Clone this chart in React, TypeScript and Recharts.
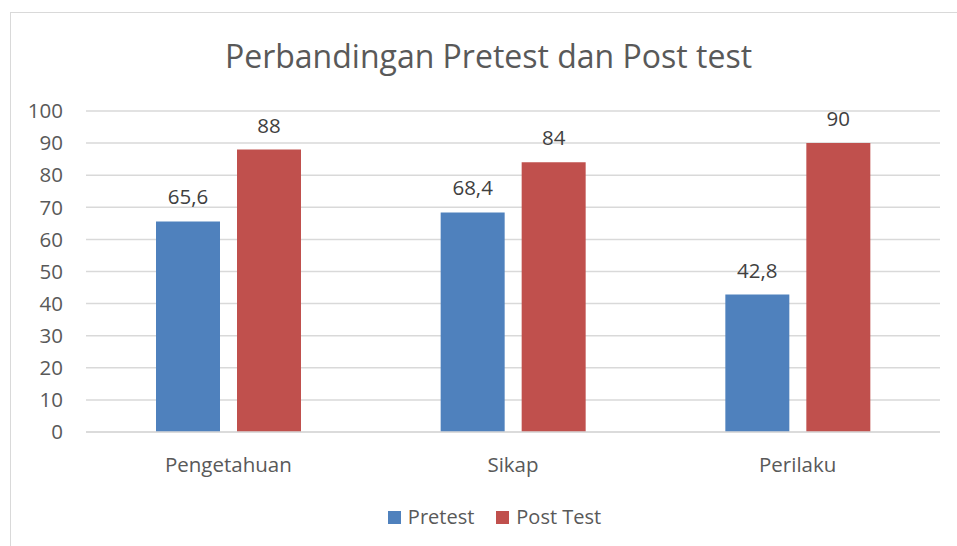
import { BarChart, Bar, XAxis, YAxis, CartesianGrid, LabelList } from 'recharts';

const categories = ['Pengetahuan', 'Sikap', 'Perilaku'];
const pretest = [65.6, 68.4, 42.8];
const postTest = [88, 84, 90];
const yTicks = [0, 10, 20, 30, 40, 50, 60, 70, 80, 90, 100];

const rows = categories.map((name, i) => ({ name, pretest: pretest[i], postTest: postTest[i] }));

const FONT = '"Open Sans", "Noto Sans", sans-serif';
const TEXT = '#595959';
const BLUE = '#4F81BD';
const RED = '#C0504D';

const fmt = (v: number) => String(v).replace('.', ',');

function LegendBox() {
  const items = [
    { label: 'Pretest', color: BLUE },
    { label: 'Post Test', color: RED },
  ];
  return (
    <div
      style={{
        position: 'absolute',
        top: 504,
        left: 0,
        width: 957,
        display: 'flex',
        justifyContent: 'center',
        gap: 22,
        paddingLeft: 32,
        boxSizing: 'border-box',
        fontFamily: FONT,
        fontSize: 20,
        color: TEXT,
        lineHeight: '26px',
      }}
    >
      {items.map(it => (
        <div key={it.label} style={{ display: 'flex', alignItems: 'center' }}>
          <span style={{ width: 13, height: 13, background: it.color, marginRight: 7 }} />
          {it.label}
        </div>
      ))}
    </div>
  );
}

export default function App() {
  return (
    <div
      style={{
        position: 'fixed',
        top: 0,
        left: 0,
        width: 957,
        height: 546,
        overflow: 'hidden',
        background: '#fff',
      }}
    >
      <div
        style={{
          position: 'absolute',
          left: 10,
          top: 12,
          width: 980,
          height: 600,
          border: '1.5px solid #D9D9D9',
        }}
      />
      <div
        style={{
          position: 'absolute',
          top: 35,
          left: 10,
          width: 957,
          textAlign: 'center',
          fontFamily: FONT,
          fontSize: 32,
          color: TEXT,
          lineHeight: '42px',
        }}
      >
        Perbandingan Pretest dan Post test
      </div>
      <div style={{ position: 'absolute', top: 0, left: 0 }}>
        <BarChart
          width={957}
          height={546}
          data={rows}
          margin={{ top: 111, right: 17, bottom: 84, left: 0 }}
          barCategoryGap={70}
          barGap={17}
        >
          <CartesianGrid vertical={false} stroke="#D9D9D9" strokeWidth={1.5} />
          <YAxis
            domain={[0, 100]}
            ticks={yTicks}
            interval={0}
            width={86}
            axisLine={false}
            tickLine={false}
            tickMargin={17}
            tick={{ fill: TEXT, fontSize: 20.5, fontFamily: FONT }}
          />
          <XAxis
            dataKey="name"
            axisLine={{ stroke: '#D9D9D9', strokeWidth: 1.5 }}
            tickLine={false}
            tickMargin={19}
            tick={{ fill: TEXT, fontSize: 20.5, fontFamily: FONT }}
          />
          <Bar dataKey="pretest" fill={BLUE} isAnimationActive={false}>
            <LabelList
              dataKey="pretest"
              position="top"
              offset={17}
              formatter={(v: any) => fmt(v)}
              style={{ fill: '#404040', fontSize: 20.5, fontFamily: FONT }}
            />
          </Bar>
          <Bar dataKey="postTest" fill={RED} isAnimationActive={false}>
            <LabelList
              dataKey="postTest"
              position="top"
              offset={17}
              formatter={(v: any) => fmt(v)}
              style={{ fill: '#404040', fontSize: 20.5, fontFamily: FONT }}
            />
          </Bar>
        </BarChart>
      </div>
      <LegendBox />
    </div>
  );
}
